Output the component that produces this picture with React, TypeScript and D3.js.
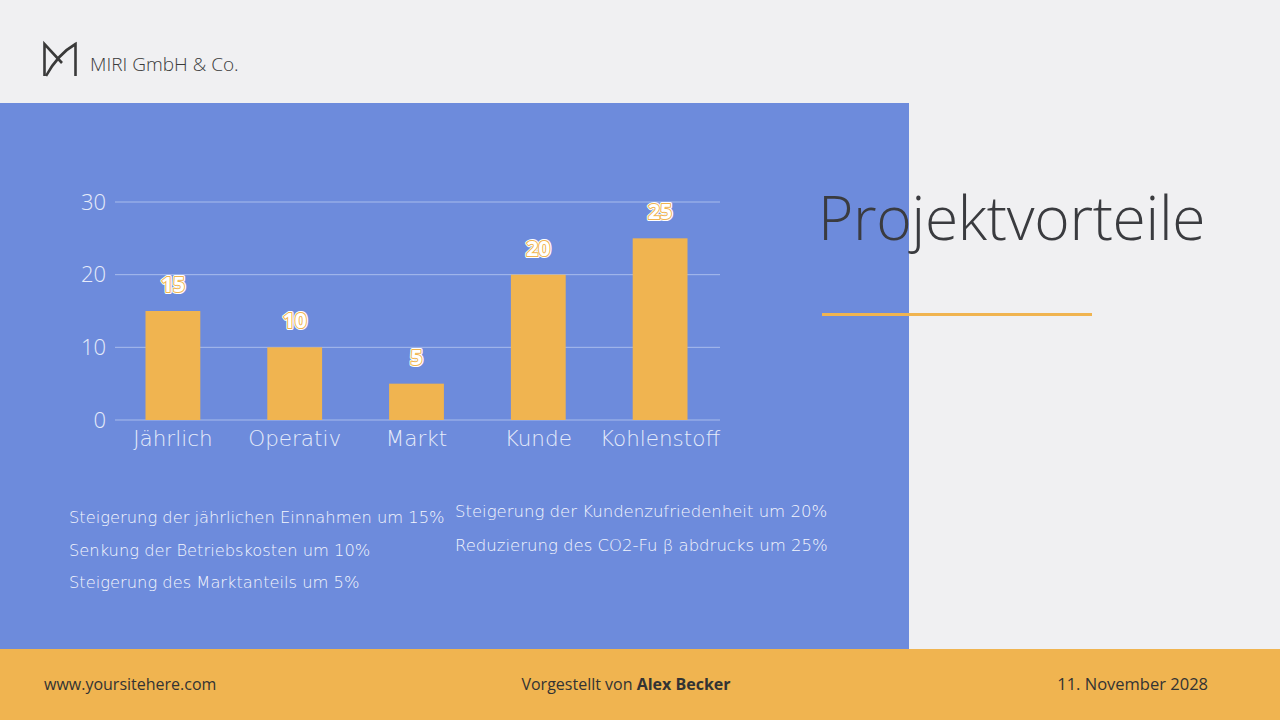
import React from "react";
import * as d3 from "d3";

const categories = ["Jährlich", "Operativ", "Markt", "Kunde", "Kohlenstoff"];
const values = [15, 10, 5, 20, 25];
const yTicks = [0, 10, 20, 30];
const notesLeft = [
  "Steigerung der jährlichen Einnahmen um 15%",
  "Senkung der Betriebskosten um 10%",
  "Steigerung des Marktanteils um 5%",
];
const notesRight = [
  "Steigerung der Kundenzufriedenheit um 20%",
  "Reduzierung des CO2-Fu\u00a0β abdrucks um 25%",
];

const FONT = "'Open Sans', 'Noto Sans', sans-serif";
const WIDE = "'DejaVu Sans', 'Open Sans', sans-serif";

export default function App() {
  const x = d3.scaleBand<string>().domain(categories).range([112, 721]).paddingInner(0.55).paddingOuter(0.275);
  const y = d3.scaleLinear().domain([0, 30]).range([420, 202]);

  return (
    <svg width={1280} height={720} style={{ position: "absolute", left: 0, top: 0 }} fontFamily={FONT}>
      <rect x={0} y={0} width={1280} height={720} fill="#f0f0f2" />
      <rect x={0} y={103} width={909} height={547} fill="#6d8bdc" />
      <rect x={0} y={649} width={1280} height={71} fill="#f0b450" />

      {/* logo */}
      <g fill="none" stroke="#3a3a3a" strokeWidth={2.6}>
        <path d="M44.5,76 V44 L62,63" />
        <path d="M46,76 Q58,54 75.5,44 V76" />
      </g>
      <text x={90} y={71} fontSize={19} fill="#3a3a3a" fontWeight={300}>MIRI GmbH &amp; Co.</text>

      {/* grid */}
      {yTicks.map((t) => (
        <g key={t}>
          <line x1={115} x2={720} y1={y(t)} y2={y(t)} stroke="#a9bcec" strokeWidth={1} />
          <text x={106} y={y(t)} dy="0.35em" textAnchor="end" fontSize={22} fill="#e6ebfa" fontWeight={300}>{t}</text>
        </g>
      ))}

      {categories.map((c, i) => {
        const cx = x(c)! + x.bandwidth() / 2;
        const ly = y(values[i]) - 19;
        return (
          <g key={c}>
            <rect x={x(c)} y={y(values[i])} width={x.bandwidth()} height={y(0) - y(values[i])} fill="#f0b450" />
            <text x={cx} y={ly} textAnchor="middle" fontSize={21} fontWeight={700} fill="#ffffff" stroke="#ffffff" strokeWidth={4} strokeLinejoin="round">{values[i]}</text>
            <text x={cx} y={ly} textAnchor="middle" fontSize={21} fontWeight={700} fill="#ffffff" stroke="#f0b450" strokeWidth={2} strokeLinejoin="round">{values[i]}</text>
            <text x={cx} y={ly} textAnchor="middle" fontSize={21} fontWeight={700} fill="#ffffff">{values[i]}</text>
            <text x={cx} y={446} textAnchor="middle" fontSize={21.5} fill="#e6ebfa" fontFamily={WIDE} fontWeight={200}>{c}</text>
          </g>
        );
      })}

      {notesLeft.map((n, i) => (
        <text key={n} x={69} y={523 + i * 32.5} fontSize={16.3} fill="#f4f6fd" fontFamily={WIDE} fontWeight={200}>{n}</text>
      ))}
      {notesRight.map((n, i) => (
        <text key={n} x={455} y={517 + i * 34} fontSize={16.5} fill="#f4f6fd" fontFamily={WIDE} fontWeight={200}>{n}</text>
      ))}

      <text x={818} y={240} fontSize={60.5} fill="#3a3b3f" fontWeight={300} letterSpacing={-0.3}>Projektvorteile</text>
      <line x1={822} x2={1092} y1={314.5} y2={314.5} stroke="#f0b450" strokeWidth={3} />

      <text x={44} y={690} fontSize={16} fill="#333">www.yoursitehere.com</text>
      <text x={626} y={690} fontSize={16} fill="#333" textAnchor="middle">
        Vorgestellt von <tspan fontWeight={700}>Alex Becker</tspan>
      </text>
      <text x={1208} y={690} fontSize={16.5} fill="#333" textAnchor="end">11. November 2028</text>
    </svg>
  );
}
